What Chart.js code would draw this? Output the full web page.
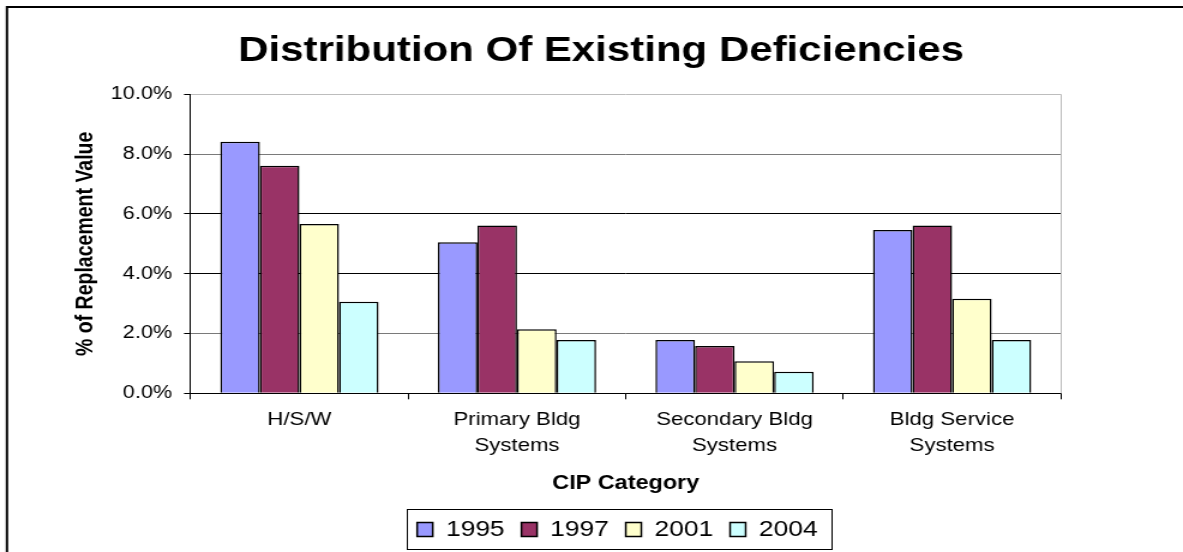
<!DOCTYPE html>
<html>
<head>
<meta charset="utf-8">
<script src="https://cdn.jsdelivr.net/npm/chart.js@4/dist/chart.umd.min.js"></script>
<style>
  html, body { margin: 0; padding: 0; background: #fff; overflow: hidden; }
  #c { display: block; width: 1183px !important; height: 552px !important; }
</style>
</head>
<body>
<canvas id="c" width="986" height="552" style="display:block;width:1183px;height:552px"></canvas>
<script>
// ---- data ----
const categories = [['H/S/W'], ['Primary Bldg', 'Systems'], ['Secondary Bldg', 'Systems'], ['Bldg Service', 'Systems']];
const seriesNames = ['1995', '1997', '2001', '2004'];
const values1995 = [8.41, 5.05, 1.78, 5.46];
const values1997 = [7.61, 5.61, 1.58, 5.61];
const values2001 = [5.66, 2.14, 1.07, 3.16];
const values2004 = [3.06, 1.78, 0.72, 1.78];
const yMin = 0, yMax = 10, yStep = 2;
const titleText = 'Distribution Of Existing Deficiencies';
const xTitle = 'CIP Category';
const yTitle = '% of Replacement Value';

// ---- styles ----
const seriesColors = ['#9999FF', '#993366', '#FFFFCC', '#CCFFFF'];
const FONT = "'Liberation Sans', Arial, sans-serif";

Chart.defaults.font.family = FONT;
Chart.defaults.color = '#000';

const seriesValues = [values1995, values1997, values2001, values2004];

const framePlugin = {
  id: 'frame',
  afterLayout(chart) {
    if (chart.legend) { chart.legend.left -= 7; chart.legend.right -= 7; }
  },
  beforeDraw(chart) {
    const ctx = chart.ctx;
    ctx.save();
    ctx.fillStyle = '#fff';
    ctx.fillRect(0, 0, chart.width, chart.height);
    ctx.strokeStyle = '#000';
    ctx.lineWidth = 2;
    ctx.beginPath();
    ctx.moveTo(5.8, chart.height + 5);
    ctx.lineTo(5.8, 7);
    ctx.lineTo(chart.width + 5, 7);
    ctx.stroke();
    ctx.restore();
  },
  beforeDatasetsDraw(chart) {
    const ctx = chart.ctx, a = chart.chartArea;
    ctx.save();
    ctx.strokeStyle = '#bdbdbd';
    ctx.lineWidth = 1;
    ctx.beginPath();
    ctx.moveTo(Math.round(a.right) + 0.5, a.top);
    ctx.lineTo(Math.round(a.right) + 0.5, a.bottom);
    ctx.stroke();
    ctx.restore();
  },
  afterDraw(chart) {
    const lg = chart.legend;
    if (!lg || !lg.legendHitBoxes || !lg.legendHitBoxes.length) return;
    const hb = lg.legendHitBoxes;
    const last = hb[hb.length - 1];
    const left = hb[0].left - 8.4;
    const right = last.left + last.width + 11.8;
    const cy = hb[0].top + hb[0].height / 2;
    const ctx = chart.ctx;
    ctx.save();
    ctx.strokeStyle = '#000';
    ctx.lineWidth = 1;
    ctx.strokeRect(Math.round(left) + 0.5, Math.round(cy - 20.5) + 0.5, Math.round(right - left), 40);
    ctx.restore();
  }
};

new Chart(document.getElementById('c'), {
  type: 'bar',
  data: {
    labels: categories,
    datasets: seriesNames.map((name, i) => ({
      label: name,
      data: seriesValues[i],
      backgroundColor: seriesColors[i],
      borderColor: '#000',
      borderWidth: 1.5,
      categoryPercentage: 4 / 5.5,
      barPercentage: 1
    }))
  },
  options: {
    responsive: false,
    devicePixelRatio: 1,
    animation: false,
    layout: { padding: { top: 10, left: 16, right: 0, bottom: 1.5 } },
    plugins: {
      title: {
        display: true,
        text: titleText,
        color: '#000',
        font: { size: 35, weight: 'bold', family: FONT },
        padding: { top: 20, bottom: 22.3 }
      },
      legend: {
        display: true,
        position: 'bottom',
        fullSize: false,
        labels: {
          color: '#000',
          font: { size: 22, family: FONT },
          boxWidth: 13,
          boxHeight: 14,
          padding: 14
        }
      },
      tooltip: { enabled: false }
    },
    scales: {
      x: {
        offset: true,
        grid: {
          display: true,
          drawOnChartArea: false,
          drawTicks: true,
          tickLength: 6,
          color: '#000',
          tickColor: '#000',
          offset: true
        },
        border: { display: true, color: '#000', width: 1 },
        ticks: {
          color: '#000',
          font: { size: 18.5, family: FONT, lineHeight: 1.4 },
          padding: 7.75,
          maxRotation: 0,
          autoSkip: false
        },
        title: {
          display: true,
          text: xTitle,
          color: '#000',
          font: { size: 19.5, weight: 'bold', family: FONT },
          padding: { top: 0, bottom: 9.1 }
        },
        afterFit(s) { s.height = 111.2; }
      },
      y: {
        min: yMin,
        max: yMax,
        grid: {
          display: true,
          drawOnChartArea: true,
          drawTicks: true,
          tickLength: 5.5,
          color: (c) => {
            const v = c.tick ? c.tick.value : 0;
            if (v === 10) return '#bdbdbd';
            if (v === 2 || v === 8) return '#7a7a7a';
            return '#000';
          },
          tickColor: '#000'
        },
        border: { display: true, color: '#000', width: 1 },
        ticks: {
          stepSize: yStep,
          color: '#000',
          font: { size: 18, family: FONT },
          padding: 10,
          callback: (v) => Number(v).toFixed(1) + '%'
        },
        title: {
          display: true,
          text: yTitle,
          color: '#000',
          font: { size: 19.5, weight: 'bold', family: FONT },
          padding: { top: 44, bottom: 0 }
        },
        afterFit(s) { s.width = 142.9; }
      },
      y2: {
        position: 'right',
        display: true,
        grid: { display: false, drawTicks: false },
        border: { display: false },
        ticks: { display: false },
        afterFit(s) { s.width = 101.8; }
      }
    }
  },
  plugins: [framePlugin]
});
</script>
</body>
</html>
